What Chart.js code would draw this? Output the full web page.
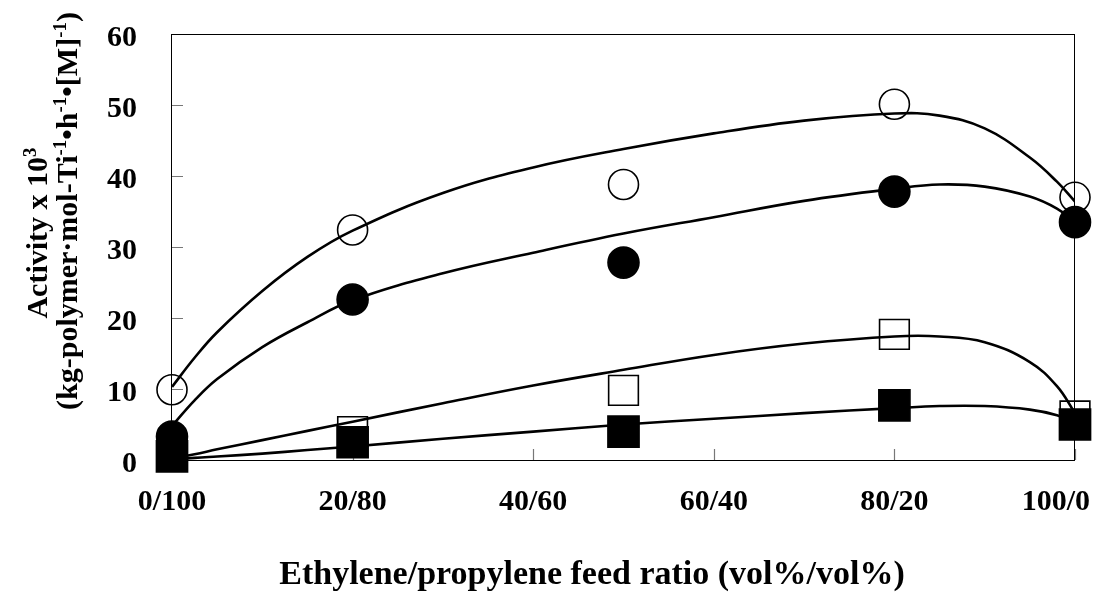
<!DOCTYPE html>
<html>
<head>
<meta charset="utf-8">
<script src="https://cdn.jsdelivr.net/npm/chart.js@4.4.0/dist/chart.umd.min.js"></script>
<style>
  body { margin: 0; background: #fff; }
  #wrap { width: 1102px; height: 597px; }
</style>
</head>
<body>
<div id="wrap"><canvas id="myChart" width="1102" height="597"></canvas></div>
<script>
// x tick labels (ethylene/propylene vol%)
let ratioLabels = ["0/100","20/80","40/60","60/40","80/20","100/0"];
// measured points (ethylene vol%)
let ethylene = [0, 20, 50, 80, 100];
let openCircle   = [9.9, 32.4, 38.8, 50.1, 37.0];
let filledCircle = [3.3, 22.6, 27.8, 37.8, 33.5];
let openSquare   = [1.0, 4.0, 9.8, 17.7, 6.2];
let filledSquare = [0.5, 2.5, 4.0, 7.7, 5.0];
// fitted curves
let fitX        = [0, 2.5, 5, 10, 15, 20, 30, 40, 50, 60, 70, 80, 85, 90, 95, 98, 100];
let fitOpenCirc = [10.3, 14.4, 18.0, 23.8, 28.6, 32.3, 37.6, 41.2, 43.8, 46.0, 47.8, 48.8, 48.5, 46.7, 42.6, 39.2, 36.4];
let fitFillCirc = [4.8, 8.4, 11.4, 15.9, 19.4, 22.5, 26.3, 29.2, 31.9, 34.2, 36.5, 38.2, 38.8, 38.5, 37.1, 35.4, 33.5];
let fitOpenSq   = [0.2, 0.8, 1.5, 2.8, 4.1, 5.4, 8.0, 10.5, 12.7, 14.8, 16.4, 17.4, 17.4, 16.6, 13.8, 10.4, 6.6];
let fitFillSq   = [0.0, 0.3, 0.5, 0.9, 1.4, 1.9, 3.0, 4.0, 5.0, 5.8, 6.6, 7.3, 7.6, 7.6, 7.1, 6.3, 5.2];

const FONT = "'Liberation Serif', 'Times New Roman', serif";
const pts = (xs, ys) => xs.map((v, i) => ({x: v, y: ys[i]}));

const markerSet = (vals, style, r, fill, order) => ({
  type: 'scatter',
  data: pts(ethylene, vals),
  pointStyle: style,
  pointRadius: r,
  pointHoverRadius: r,
  backgroundColor: fill,
  borderColor: '#000',
  borderWidth: 1.6,
  clip: false,
  order: order
});

const curveSet = (vals) => ({
  type: 'line',
  data: pts(fitX, vals),
  borderColor: '#000',
  borderWidth: 2.6,
  pointRadius: 0,
  fill: false,
  tension: 0.4,
  order: 3
});

// 文字列を上付き付きで描く
const drawRich = (ctx, parts, size) => {
  const supSize = Math.round(size * 0.62);
  let total = 0;
  parts.forEach(p => {
    ctx.font = `bold ${p.sup ? supSize : size}px ${FONT}`;
    p.w = ctx.measureText(p.t).width;
    total += p.w;
  });
  let x = -total / 2;
  ctx.textAlign = 'left';
  ctx.textBaseline = 'alphabetic';
  parts.forEach(p => {
    ctx.font = `bold ${p.sup ? supSize : size}px ${FONT}`;
    ctx.fillText(p.t, x, p.sup ? -size * 0.38 : 0);
    x += p.w;
  });
};

const framePlugin = {
  id: 'frame',
  beforeDatasetsDraw(chart) {
    const {ctx, chartArea: a, scales: {x, y}} = chart;
    ctx.save();
    ctx.strokeStyle = '#777';
    ctx.lineWidth = 1.2;
    ctx.beginPath();
    y.ticks.forEach(t => {
      const py = Math.round(y.getPixelForValue(t.value)) + 0.5;
      ctx.moveTo(a.left, py);
      ctx.lineTo(a.left + 11, py);
    });
    x.ticks.forEach(t => {
      const px = Math.round(x.getPixelForValue(t.value)) + 0.5;
      ctx.moveTo(px, a.bottom);
      ctx.lineTo(px, a.bottom - 11);
    });
    ctx.stroke();
    ctx.strokeStyle = '#000';
    ctx.lineWidth = 1;
    ctx.strokeRect(Math.round(a.left) - 0.5, Math.round(a.top) + 0.5,
                   Math.round(a.right - a.left), Math.round(a.bottom - a.top));
    ctx.restore();
  },
  afterDraw(chart) {
    const {ctx, scales: {x}} = chart;
    ctx.save();
    ctx.fillStyle = '#000';
    // x tick labels
    ctx.font = `bold 30px ${FONT}`;
    ctx.textBaseline = 'middle';
    ctx.textAlign = 'center';
    x.ticks.forEach((t, i) => {
      const lab = ratioLabels[i];
      const w = ctx.measureText(lab).width;
      let px = x.getPixelForValue(t.value);
      px = Math.min(px, chart.width - 12 - w / 2);
      ctx.fillText(lab, px, 502);
    });
    // x title
    ctx.font = `bold 34px ${FONT}`;
    ctx.textBaseline = 'alphabetic';
    ctx.fillText('Ethylene/propylene feed ratio (vol%/vol%)', 592, 584);
    // y title, two lines
    ctx.save();
    ctx.translate(47, 233);
    ctx.rotate(-Math.PI / 2);
    drawRich(ctx, [{t: 'Activity x 10'}, {t: '3', sup: true}], 30);
    ctx.restore();
    ctx.save();
    ctx.translate(77, 211);
    ctx.rotate(-Math.PI / 2);
    drawRich(ctx, [
      {t: '(kg-polymer\u00b7mol-Ti'}, {t: '-1', sup: true},
      {t: '\u2022h'}, {t: '-1', sup: true},
      {t: '\u2022[M]'}, {t: '-1', sup: true},
      {t: ')'}
    ], 30);
    ctx.restore();
    ctx.restore();
  }
};

new Chart(document.getElementById('myChart'), {
  type: 'scatter',
  data: {
    datasets: [
      markerSet(filledSquare, 'rect', 22, '#000', 0),
      markerSet(filledCircle, 'circle', 15.5, '#000', 0),
      markerSet(openSquare, 'rect', 21, 'rgba(255,255,255,0)', 1),
      markerSet(openCircle, 'circle', 15, 'rgba(255,255,255,0)', 1),
      curveSet(fitOpenCirc),
      curveSet(fitFillCirc),
      curveSet(fitOpenSq),
      curveSet(fitFillSq)
    ]
  },
  options: {
    responsive: false,
    animation: false,
    layout: { padding: { left: 72, right: 27, top: 34, bottom: 0 } },
    plugins: { legend: { display: false }, tooltip: { enabled: false } },
    scales: {
      x: {
        type: 'linear', min: 0, max: 100,
        grid: { display: false, drawTicks: false },
        border: { display: false },
        ticks: { display: false, stepSize: 20 },
        afterFit: (s) => { s.height = 137; s.paddingLeft = 0; s.paddingRight = 0; }
      },
      y: {
        min: 0, max: 60,
        grid: { display: false, drawTicks: false },
        border: { display: false },
        ticks: {
          stepSize: 10, padding: 35, labelOffset: 4, color: '#000',
          font: { family: FONT, size: 30, weight: 'bold' }
        },
        afterFit: (s) => { s.width = 100; s.paddingTop = 0; s.paddingBottom = 0; }
      }
    }
  },
  plugins: [framePlugin]
});
</script>
</body>
</html>
